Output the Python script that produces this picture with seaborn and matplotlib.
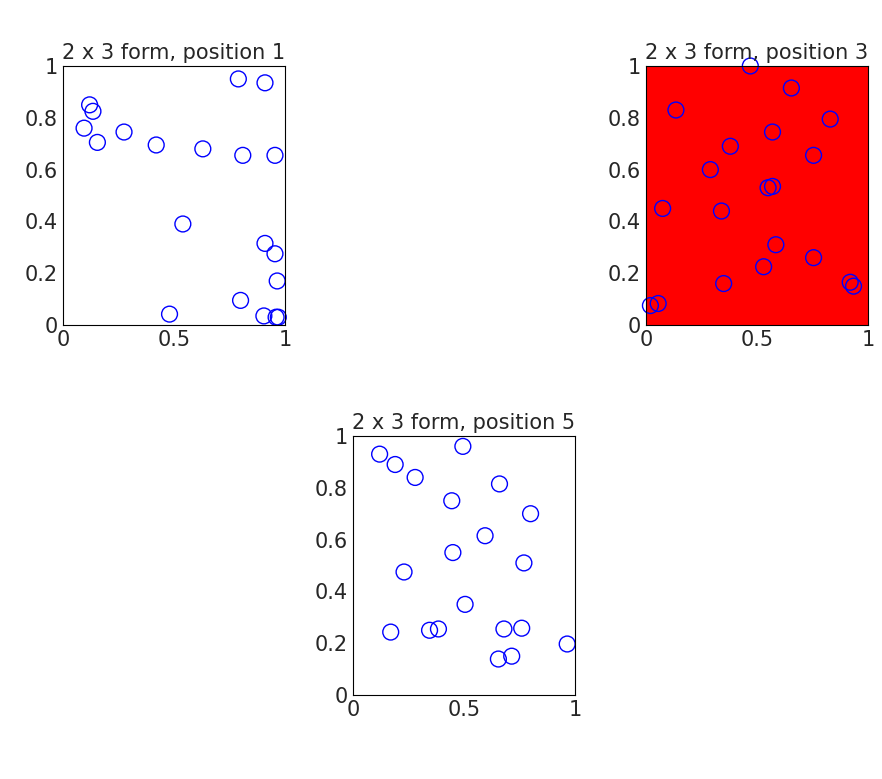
import matplotlib
matplotlib.use('Agg')
import matplotlib.pyplot as plt
import seaborn as sns

sns.set_style('white')

# points
x1 = [0.12, 0.135, 0.095, 0.155, 0.275, 0.42, 0.63, 0.79, 0.91, 0.81, 0.955, 0.54, 0.91, 0.955, 0.965, 0.8, 0.48, 0.905, 0.96, 0.97]
y1 = [0.85, 0.825, 0.76, 0.705, 0.745, 0.695, 0.68, 0.95, 0.935, 0.655, 0.655, 0.39, 0.315, 0.275, 0.17, 0.095, 0.042, 0.035, 0.03, 0.03]

x3 = [0.135, 0.47, 0.655, 0.83, 0.38, 0.57, 0.29, 0.755, 0.075, 0.34, 0.55, 0.57, 0.585, 0.755, 0.53, 0.35, 0.02, 0.055, 0.92, 0.935]
y3 = [0.83, 1.0, 0.915, 0.795, 0.69, 0.745, 0.6, 0.655, 0.45, 0.44, 0.53, 0.535, 0.31, 0.26, 0.225, 0.16, 0.075, 0.083, 0.165, 0.15]

x5 = [0.12, 0.19, 0.28, 0.495, 0.66, 0.445, 0.8, 0.595, 0.45, 0.77, 0.23, 0.505, 0.17, 0.345, 0.385, 0.68, 0.76, 0.655, 0.715, 0.965]
y5 = [0.93, 0.89, 0.84, 0.96, 0.815, 0.75, 0.7, 0.615, 0.55, 0.51, 0.475, 0.35, 0.243, 0.25, 0.255, 0.255, 0.258, 0.139, 0.15, 0.197]

titles = ['2 x 3 form, position 1', '2 x 3 form, position 3', '2 x 3 form, position 5']
xticks = [0, 0.5, 1]
xtick_labels = ['0', '0.5', '1']
yticks = [0, 0.2, 0.4, 0.6, 0.8, 1]
ytick_labels = ['0', '0.2', '0.4', '0.6', '0.8', '1']

fig = plt.figure(figsize=(8.82, 7.79), dpi=100)
rects = [[0.0714, 0.5828, 0.2517, 0.3325],
         [0.7324, 0.5828, 0.2517, 0.3325],
         [0.4002, 0.1078, 0.2517, 0.3325]]
data = [(x1, y1, 'white'), (x3, y3, 'red'), (x5, y5, 'white')]

for rect, (xs, ys, bg), title in zip(rects, data, titles):
    ax = fig.add_axes(rect)
    ax.set_facecolor(bg)
    sns.scatterplot(x=xs, y=ys, ax=ax, marker='o', s=130, facecolors='none',
                    edgecolor='blue', linewidth=1, clip_on=False)
    ax.set_xlim(0, 1)
    ax.set_ylim(0, 1)
    ax.set_xticks(xticks)
    ax.set_xticklabels(xtick_labels)
    ax.set_yticks(yticks)
    ax.set_yticklabels(ytick_labels)
    ax.tick_params(direction='in', length=4, labelsize=15, color='black',
                   top=False, right=False)
    for sp in ax.spines.values():
        sp.set_color('black')
        sp.set_linewidth(0.8)
    ax.set_title(title, fontsize=15, pad=5)

fig.savefig('out.png', dpi=100)
